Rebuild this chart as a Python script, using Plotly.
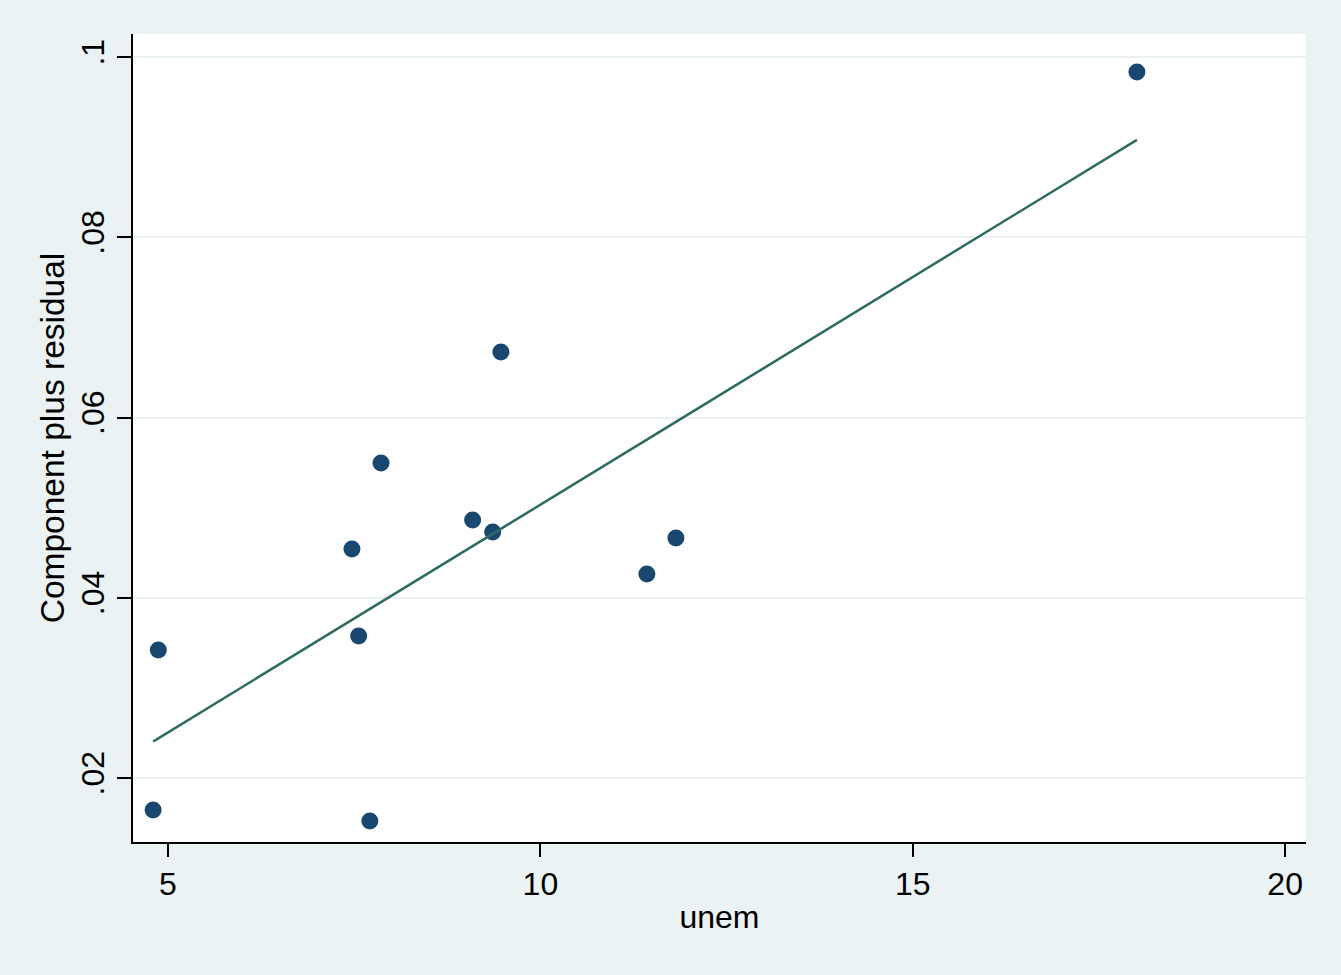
import plotly.graph_objects as go

unem = [4.80, 4.87, 7.47, 7.56, 7.71, 7.86, 9.09, 9.36, 9.47, 11.43, 11.82, 18.01]
cpr = [0.01645, 0.0342, 0.0454, 0.03576, 0.01523, 0.05495, 0.04863, 0.0473, 0.06727, 0.04264, 0.04663, 0.09834]
fitted = [0.02405, 0.0244, 0.03754, 0.038, 0.03875, 0.03951, 0.04573, 0.04709, 0.04765, 0.05755, 0.05952, 0.0908]

x_ticks = [5, 10, 15, 20]
y_ticks = [0.02, 0.04, 0.06, 0.08, 0.1]
y_labels = [".02", ".04", ".06", ".08", ".1"]

font = "Arial"

fig = go.Figure()
fig.add_trace(go.Scatter(x=unem, y=cpr, mode="markers",
                         marker=dict(color="#1A476F", size=17, line=dict(width=0)),
                         showlegend=False))
fig.add_trace(go.Scatter(x=unem, y=fitted, mode="lines",
                         line=dict(color="#2E6B62", width=2.5),
                         showlegend=False))

fig.update_layout(
    width=1341, height=975,
    paper_bgcolor="#EAF2F3", plot_bgcolor="#FFFFFF",
    margin=dict(l=133, r=35, t=34, b=133),
    font=dict(family=font, size=32, color="#000000"),
    xaxis=dict(range=[4.53, 20.28], tickvals=x_ticks, ticks="outside", ticklen=13,
               tickwidth=2, tickcolor="#000", showline=True, linecolor="#000", linewidth=2,
               showgrid=False, zeroline=False,
               title=dict(text="unem", standoff=4, font=dict(size=32)),
               tickfont=dict(size=32)),
    yaxis=dict(range=[0.0129, 0.10255], tickvals=y_ticks, ticktext=y_labels, tickangle=-90,
               ticks="outside", ticklen=14, tickwidth=2, tickcolor="#000",
               showline=True, linecolor="#000", linewidth=2,
               showgrid=True, gridcolor="#EAF2F3", gridwidth=2, zeroline=False,
               title=dict(text="Component plus residual", standoff=0, font=dict(size=33.5)),
               tickfont=dict(size=32)),
)

fig.write_html("out.html", config={"displayModeBar": False},
               post_script="document.body.style.margin='0';")
